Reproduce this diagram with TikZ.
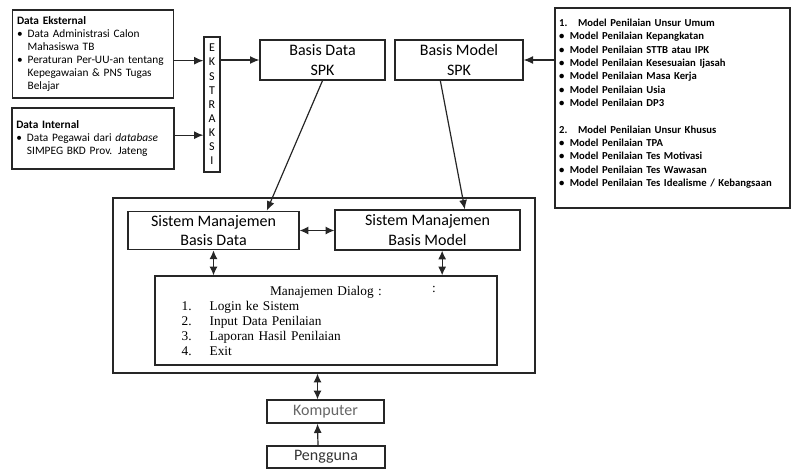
\documentclass[tikz,border=0pt]{standalone}
\usepackage{fontspec}
\setmainfont{Carlito}
\newfontfamily\dialogfont{Liberation Serif}
\usetikzlibrary{arrows.meta}

\newcommand{\itembul}{\makebox[8pt][l]{\textbullet}}

\begin{document}
\begin{tikzpicture}[x=0.75pt,y=-0.75pt,
	box/.style={draw=black!85, line width=1pt, inner sep=3pt},
	arr/.style={-{Latex[length=7pt,width=6pt]}, line width=0.9pt, draw=black!85},
	darr/.style={{Latex[length=6.5pt,width=6pt]}-{Latex[length=6.5pt,width=6pt]}, line width=0.9pt, draw=black!85}]
	\tikzstyle{kecil}=[font=\fontsize{8.5}{9.75}\selectfont, align=left]
	\tikzstyle{judul}=[font=\fontsize{12}{14.5}\selectfont, align=center]
	\useasboundingbox (0,0) rectangle (794,469);
	
	% sumber data
	\node[box, kecil, minimum width=121pt, minimum height=66pt, text width=114pt] (ekstern) at (93,54)
		{\textbf{Data Eksternal}\\
		\itembul Data Administrasi Calon\\
		\hspace*{8pt}Mahasiswa TB\\
		\itembul Peraturan Per-UU-an tentang\\
		\hspace*{8pt}Kepegawaian \& PNS Tugas\\
		\hspace*{8pt}Belajar};
	\node[box, kecil, minimum width=121.5pt, minimum height=45.75pt, text width=115pt] (intern) at (93,138.5)
		{\textbf{Data Internal}\\
		\itembul Data Pegawai dari \textit{database}\\
		\hspace*{8pt}SIMPEG BKD Prov. Jateng};
	\node[box, minimum width=12pt, minimum height=101.25pt, inner sep=1pt, align=center,
		font=\fontsize{9}{10.6}\selectfont] (ekstraksi) at (212,104.5) {E\\K\\S\\T\\R\\A\\K\\S\\I};
	
	% basis data dan basis model
	\node[box, judul, minimum width=93.75pt, minimum height=30pt] (basisdata) at (322.5,60) {Basis Data\\SPK};
	\node[box, judul, minimum width=96pt, minimum height=30pt] (basismodel) at (459,60) {Basis Model\\SPK};
	\node[box, minimum width=176.25pt, minimum height=150pt, text width=170pt, align=left,
		font=\fontsize{8}{10}\selectfont\bfseries] (penilaian) at (672.5,108)
		{1.\hspace{8pt}Model Penilaian Unsur Umum\\
		\itembul Model Penilaian Kepangkatan\\
		\itembul Model Penilaian STTB atau IPK\\
		\itembul Model Penilaian Kesesuaian Ijasah\\
		\itembul Model Penilaian Masa Kerja\\
		\itembul Model Penilaian Usia\\
		\itembul Model Penilaian DP3\\[10pt]
		2.\hspace{8pt}Model Penilaian Unsur Khusus\\
		\itembul Model Penilaian TPA\\
		\itembul Model Penilaian Tes Motivasi\\
		\itembul Model Penilaian Tes Wawasan\\
		\itembul Model Penilaian Tes Idealisme / Kebangsaan\\[-2pt]
		\mbox{}};
	
	% sistem
	\node[box, minimum width=316.5pt, minimum height=131.25pt] (sistem) at (324,285.5) {};
	\node[box, judul, minimum width=128.25pt, minimum height=27.75pt] (smbd) at (213.5,230.5) {Sistem Manajemen\\Basis Data};
	\node[box, judul, minimum width=138.75pt, minimum height=30pt] (smbm) at (427.5,230) {Sistem Manajemen\\Basis Model};
	\node[box, minimum width=256.5pt, minimum height=66.75pt, text width=250.5pt, align=left,
		font=\dialogfont\fontsize{10}{11.25}\selectfont] (dialog) at (326,320.5)
		{\makebox[\linewidth]{Manajemen Dialog :}\\
		\hspace*{17pt}\makebox[21pt][l]{1.}Login ke Sistem\\
		\hspace*{17pt}\makebox[21pt][l]{2.}Input Data Penilaian\\
		\hspace*{17pt}\makebox[21pt][l]{3.}Laporan Hasil Penilaian\\
		\hspace*{17pt}\makebox[21pt][l]{4.}Exit};
	\node[font=\dialogfont\fontsize{10}{11.25}\selectfont, inner sep=0pt] (titikdua) at (434,289) {:};
	
	% pengguna
	\node[box, judul, text=black!60, minimum width=87.75pt, minimum height=17.25pt, inner sep=1pt] (komputer) at (325.5,411.5) {Komputer};
	\node[box, judul, text=black!80, minimum width=88.5pt, minimum height=16.5pt, inner sep=1pt] (pengguna) at (326,457) {Pengguna};
	
	\draw[arr] ([yshift=-5pt]ekstern.east) -- ([yshift=-5pt]ekstern.east -| ekstraksi.west);
	\draw[arr] ([yshift=2.5pt]intern.east) -- ([yshift=2.5pt]intern.east -| ekstraksi.west);
	\draw[arr] (ekstraksi.east |- basisdata.west) -- (basisdata.west);
	\draw[arr] (penilaian.west |- basismodel.east) -- (basismodel.east);
	\draw[arr] (basisdata.south) -- ([xshift=40pt]smbd.north);
	\draw[arr] ([xshift=-14pt]basismodel.south) -- ([xshift=28pt]smbm.north);
	\draw[darr] (smbd.east) -- (smbd.east -| smbm.west);
	\draw[darr] (smbd.south) -- (smbd.south |- dialog.north);
	\draw[darr] ([xshift=11pt]smbm.south) -- ([xshift=11pt]smbm.south |- dialog.north);
	\draw[darr] ([xshift=-6pt]komputer.north |- sistem.south) -- ([xshift=-6pt]komputer.north);
	\draw[arr] ([xshift=-6pt]pengguna.north) -- ([xshift=-6pt]komputer.south);
\end{tikzpicture}
\end{document}
